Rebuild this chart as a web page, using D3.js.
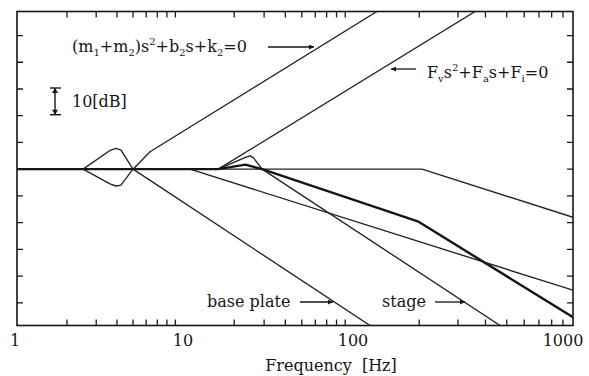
<!DOCTYPE html>
<html>
<head>
<meta charset="utf-8">
<script src="https://cdn.jsdelivr.net/npm/d3@7"></script>
<style>
    body { margin: 0; background: #fff; }
    svg { display: block; font-family: "DejaVu Serif", "Liberation Serif", serif; }
    .curve { fill: none; stroke: #222; stroke-width: 1.35; stroke-linejoin: round; }
    .curve.thick { stroke-width: 2.4; stroke: #151515; }
    .tickmark { fill: none; stroke: #1a1a1a; stroke-width: 1.3; }
    .label { font-size: 16px; fill: #151515; }
    .note { font-size: 16px; fill: #151515; }
</style>
</head>
<body>
<div id="chart"></div>
<script>
// frequency axis [Hz]
const decades = [1, 10, 100, 1000];
const tickLabels = ["1", "10", "100", "1000"];
const minorSteps = [2, 3, 4, 5, 6, 7, 8, 9];
// gain axis [dB]
const gainTicks = [-50, -40, -30, -20, -10, 0, 10, 20, 30, 40, 50];

// curves: [frequency Hz, gain dB]
const flatTop = [[1, 0], [206, 0], [1000, -18]];
const basePlate = [[1, 0], [2.5, 0], [3.63, 7.0], [3.95, 7.8], [4.23, 7.1], [5.0, 0], [119.5, -58.5]];
const baseAsym = [[1, 0], [2.5, 0], [3.63, -5.5], [3.95, -6.3], [4.23, -6.0], [5.0, 0], [6.33, 6.5], [128.5, 59]];
const stageAsym = [[16.1, 0], [359, 59]];
const stage = [[1, 0], [16.1, 0], [23.3, 4.4], [24.8, 5.0], [26.0, 4.2], [29.2, 0], [466, -58.5]];
const stageThick = [[1, 0], [16.1, 0], [23.3, 1.7], [29.2, 0], [197, -19.5], [1000, -55.4]];
const midLine = [[1, 0], [11, 0], [1000, -45.3]];

const W = 589, H = 376;
const box = {l: 17, r: 573, t: 11.5, b: 325.5};
const tickLen = 6;

const svg = d3.select("#chart").append("svg")
    .attr("width", W)
    .attr("height", H);

// the log axis of the original is drawn unevenly, so the decades are pieced
const x = d3.scaleLog()
    .domain(decades)
    .range([17, 183, 353, 573]);

const y = d3.scaleLinear()
    .domain([-58.5, 59])
    .range([box.b, box.t]);

const freqTicks = [];
decades.slice(0, 3).forEach(d => minorSteps.forEach(k => freqTicks.push(d * k)));

svg.append("defs").append("clipPath")
    .attr("id", "plot-area")
    .append("rect")
    .attr("x", box.l).attr("y", box.t)
    .attr("width", box.r - box.l).attr("height", box.b - box.t);

// ticks on all four sides, pointing inwards
const ticks = svg.append("g");

ticks.append("path")
    .attr("class", "tickmark")
    .attr("d", freqTicks.map(d => `M${x(d)},${box.b}V${box.b - tickLen}`).join(""));

ticks.append("path")
    .attr("class", "tickmark")
    .attr("d", freqTicks.map(d => `M${x(d)},${box.t}V${box.t + tickLen}`).join(""));

ticks.append("path")
    .attr("class", "tickmark")
    .attr("d", gainTicks.map(d => `M${box.l},${y(d)}H${box.l + tickLen}`).join(""));

ticks.append("path")
    .attr("class", "tickmark")
    .attr("d", gainTicks.map(d => `M${box.r},${y(d)}H${box.r - tickLen}`).join(""));

svg.append("g")
    .selectAll("text")
    .data(decades)
    .join("text")
    .attr("class", "label")
    .attr("x", d => x(d))
    .attr("dx", d => (d === 1 ? -2 : d === 1000 ? -10 : 0))
    .attr("y", box.b + 20)
    .attr("text-anchor", "middle")
    .text((d, i) => tickLabels[i]);

svg.append("rect")
    .attr("x", box.l).attr("y", box.t)
    .attr("width", box.r - box.l).attr("height", box.b - box.t)
    .attr("fill", "none")
    .attr("stroke", "#151515")
    .attr("stroke-width", 1.6);

// curves
const line = d3.line()
    .x(d => x(d[0]))
    .y(d => y(d[1]));

const curves = [
    {name: "flatTop", data: flatTop},
    {name: "midLine", data: midLine},
    {name: "basePlate", data: basePlate},
    {name: "baseAsym", data: baseAsym},
    {name: "stageAsym", data: stageAsym},
    {name: "stage", data: stage},
    {name: "stageThick", data: stageThick, thick: true}
];

svg.append("g")
    .attr("clip-path", "url(#plot-area)")
    .selectAll("path")
    .data(curves)
    .join("path")
    .attr("class", d => (d.thick ? "curve thick" : "curve"))
    .attr("id", d => d.name)
    .attr("d", d => line(d.data));

// arrows
const marker = svg.select("defs").append("marker")
    .attr("id", "head")
    .attr("viewBox", "0 0 10 10")
    .attr("refX", 10).attr("refY", 5)
    .attr("markerWidth", 8).attr("markerHeight", 5)
    .attr("markerUnits", "userSpaceOnUse")
    .attr("orient", "auto");
marker.append("path").attr("d", "M0,0L10,5L0,10Z").attr("fill", "#151515");

function arrow(x1, y1, x2, y2) {
    svg.append("line")
        .attr("x1", x1).attr("y1", y1)
        .attr("x2", x2).attr("y2", y2)
        .attr("stroke", "#151515")
        .attr("stroke-width", 1.3)
        .attr("marker-end", "url(#head)");
}

// equation labels, with sub/superscripts
function formula(xp, yp, parts) {
    const t = svg.append("text").attr("class", "note").attr("x", xp).attr("y", yp);
    let shift = 0;
    parts.forEach(p => {
        const want = p[1] === "sub" ? 4 : p[1] === "sup" ? -7 : 0;
        const s = t.append("tspan").text(p[0]).attr("dy", want - shift);
        if (want !== 0) s.attr("font-size", 10);
        shift = want;
    });
    return t;
}

formula(72, 52, [
    ["(m"], ["1", "sub"], ["+m"], ["2", "sub"], [")s"], ["2", "sup"],
    ["+b"], ["2", "sub"], ["s+k"], ["2", "sub"], ["=0"]
]);
arrow(268, 47, 314, 47);

formula(427, 78, [
    ["F"], ["v", "sub"], ["s"], ["2", "sup"], ["+F"], ["a", "sub"],
    ["s+F"], ["i", "sub"], ["=0"]
]);
arrow(416, 69, 391, 69);

svg.append("text").attr("class", "note")
    .attr("x", 207).attr("y", 307)
    .text("base plate");
arrow(300, 302, 333, 302);

svg.append("text").attr("class", "note")
    .attr("x", 382).attr("y", 307)
    .text("stage");
arrow(435, 302, 465, 302);

// 10 dB scale bar
const barTop = 88;
const barH = y(0) - y(10);
const bar = svg.append("g").attr("stroke", "#151515").attr("stroke-width", 1.4);
bar.append("line").attr("x1", 55).attr("x2", 55).attr("y1", barTop).attr("y2", barTop + barH);
bar.append("line").attr("x1", 50).attr("x2", 61).attr("y1", barTop).attr("y2", barTop);
bar.append("line").attr("x1", 50).attr("x2", 61).attr("y1", barTop + barH).attr("y2", barTop + barH);
svg.append("path")
    .attr("d", `M52,${barTop + 5}L55,${barTop}L58,${barTop + 5}Z M52,${barTop + barH - 5}L55,${barTop + barH}L58,${barTop + barH - 5}Z`)
    .attr("fill", "#151515");
svg.append("text").attr("class", "note")
    .attr("x", 72).attr("y", 107)
    .text("10[dB]");

svg.append("text").attr("class", "note")
    .attr("x", 331).attr("y", 371)
    .attr("text-anchor", "middle")
    .attr("font-size", 15)
    .attr("xml:space", "preserve")
    .text("Frequency  [Hz]");
</script>
</body>
</html>
